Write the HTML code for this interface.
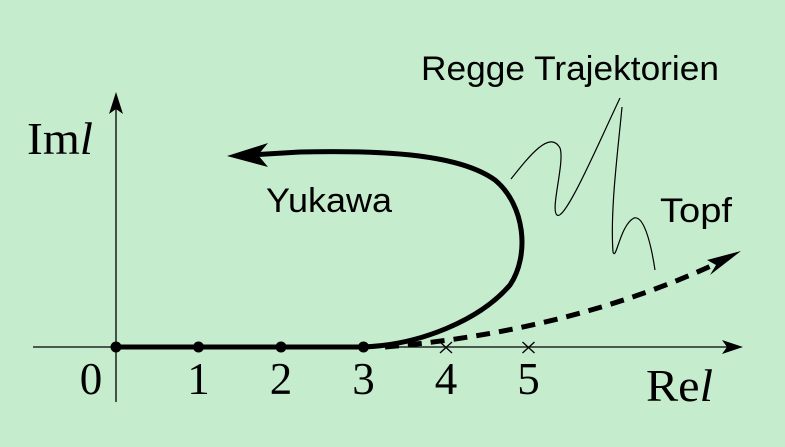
<!DOCTYPE html>
<html><head><meta charset="utf-8"><style>
html,body{margin:0;padding:0;background:#c6ecce;}
svg{display:block;}
.sans{font-family:"Liberation Sans",sans-serif;}
.serif{font-family:"Liberation Serif",serif;}
</style></head><body>
<svg id="chart" width="785" height="447" viewBox="0 0 785 447" xmlns="http://www.w3.org/2000/svg">
<rect width="785" height="447" fill="#c6ecce"/>
<g id="axes">
<line x1="33" y1="347" x2="730" y2="347" stroke="#000" stroke-width="1.3"/>
<path d="M743,347 L722,340 L727,347 L722,354z" fill="#000"/>
<line x1="116" y1="402" x2="116" y2="105" stroke="#000" stroke-width="1.3"/>
<path d="M116,92 L109,114 L116,109 L123,114z" fill="#000"/>
<text x="27" y="154" class="serif" font-size="46" textLength="66" lengthAdjust="spacingAndGlyphs">Im<tspan font-style="italic">l</tspan></text>
<text x="646" y="401" class="serif" font-size="46" textLength="67" lengthAdjust="spacingAndGlyphs">Re<tspan font-style="italic">l</tspan></text>
</g>
<path d="M385,347 C470,340 600,320 728,258" fill="none" stroke="#000" stroke-width="5" stroke-dasharray="14,9"/>
<path d="M741,251 L707,260 L716,265 L710,275z" fill="#000"/>
<path d="M116,347 L363,347 C420,345 480,320 510,285 C530,255 525,205 495,180 C460,155 390,150 300,152 L250,155" fill="none" stroke="#000" stroke-width="5"/>
<path d="M227,156 L268,143 L258,155 L268,167z" fill="#000"/>
<path d="M511,179 C530,155 550,130 560,148 C565,162 550,210 557,215 C565,222 600,140 620,98" fill="none" stroke="#000" stroke-width="1.2"/>
<path d="M622,107 C618,150 610,210 613,252 C616,262 620,225 634,218 C645,215 652,250 655,270" fill="none" stroke="#000" stroke-width="1.2"/>
<text x="421" y="80" class="sans" font-size="34" textLength="298" lengthAdjust="spacingAndGlyphs">Regge Trajektorien</text>
<text x="266" y="212" class="sans" font-size="34" textLength="126" lengthAdjust="spacingAndGlyphs">Yukawa</text>
<text x="660" y="222" class="sans" font-size="34" textLength="72" lengthAdjust="spacingAndGlyphs">Topf</text>
<g id="marks"></g>
</svg>
<script>
const tickLabels = ["0","1","2","3","4","5"];
const tickValues = [0,1,2,3,4,5];
const boundStates = [0,1,2,3];
const resonances = [4,5];
const X0 = 116, UNIT = 82.5, Y0 = 347;
function xScale(v){ return X0 + v*UNIT; }
const NS = "http://www.w3.org/2000/svg";
const g = document.getElementById('marks');
tickValues.forEach(function(v,i){
  const t = document.createElementNS(NS,'text');
  t.setAttribute('x', v === 0 ? xScale(v) - 25 : xScale(v));
  t.setAttribute('y', 394);
  t.setAttribute('font-size', '45');
  t.setAttribute('text-anchor', 'middle');
  t.setAttribute('font-family', '"Liberation Serif", serif');
  t.textContent = tickLabels[i];
  
  
  g.appendChild(t);
});
boundStates.forEach(function(v){
  const c = document.createElementNS(NS,'circle');
  c.setAttribute('cx', xScale(v));
  c.setAttribute('cy', Y0);
  c.setAttribute('r', 5.5);
  c.setAttribute('fill', '#000');
  
  
  g.appendChild(c);
});
resonances.forEach(function(v){
  const p = document.createElementNS(NS,'path');
  const x = xScale(v);
  p.setAttribute('d', 'M'+(x-6)+','+(Y0-5)+' L'+(x+6)+','+(Y0+6)+' M'+(x+6)+','+(Y0-5)+' L'+(x-6)+','+(Y0+6));
  p.setAttribute('stroke', '#000');
  p.setAttribute('stroke-width', '1.3');
  
  
  g.appendChild(p);
});
</script>
</body></html>
